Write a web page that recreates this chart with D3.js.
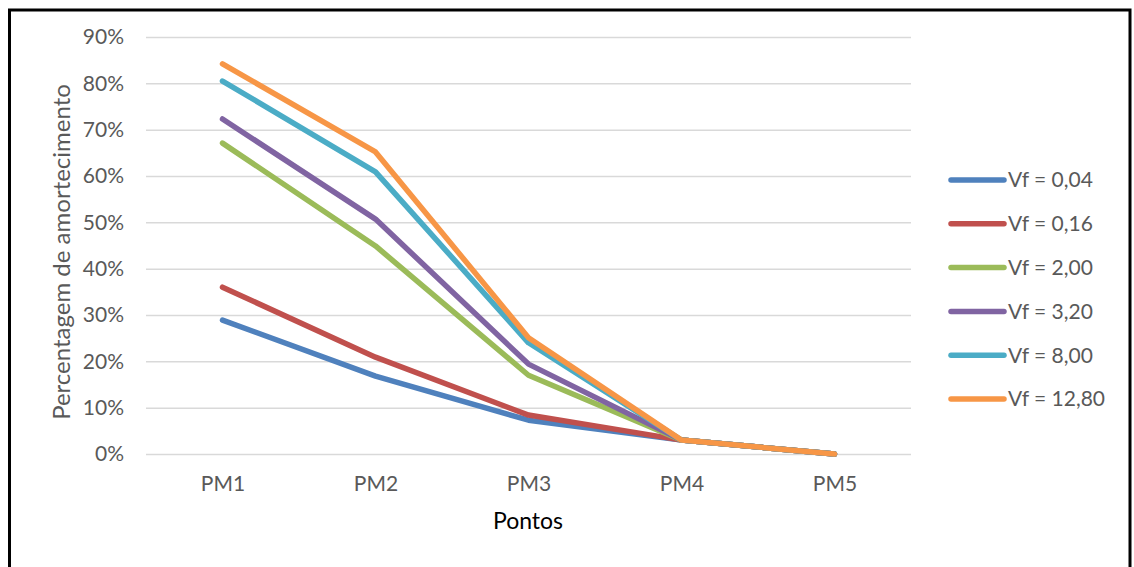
<!DOCTYPE html>
<html>
<head>
<meta charset="utf-8">
<script src="https://cdn.jsdelivr.net/npm/d3@7/dist/d3.min.js"></script>
<style>
  html, body { margin: 0; padding: 0; background: #fff; }
  svg { display: block; }
  text { font-family: Lato, "Noto Sans", sans-serif; }
</style>
</head>
<body>
<svg id="chart" width="1134" height="567"></svg>
<script>
// Damping percentage at each measurement point for each Vf value
const categories = ["PM1", "PM2", "PM3", "PM4", "PM5"];
const seriesNames = ["Vf = 0,04", "Vf = 0,16", "Vf = 2,00", "Vf = 3,20", "Vf = 8,00", "Vf = 12,80"];
const vf004 = [0.289, 0.168, 0.073, 0.030, 0.000];
const vf016 = [0.360, 0.209, 0.084, 0.030, 0.000];
const vf200 = [0.671, 0.449, 0.170, 0.030, 0.000];
const vf320 = [0.723, 0.507, 0.194, 0.030, 0.000];
const vf800 = [0.805, 0.609, 0.240, 0.030, 0.000];
const vf1280 = [0.842, 0.652, 0.251, 0.030, 0.000];
const yTicks = [0, 0.1, 0.2, 0.3, 0.4, 0.5, 0.6, 0.7, 0.8, 0.9];
const colors = ["#4F81BD", "#C0504D", "#9BBB59", "#8064A2", "#4BACC6", "#F79646"];

const series = [vf004, vf016, vf200, vf320, vf800, vf1280].map((values, i) => ({
  name: seriesNames[i], values, color: colors[i]
}));

const svg = d3.select("#chart");

// outer frame
svg.append("rect")
  .attr("x", 9.5).attr("y", 10)
  .attr("width", 1120.5).attr("height", 600)
  .attr("fill", "#fff")
  .attr("stroke", "#000").attr("stroke-width", 3);

const plot = { left: 146, right: 911, top: 37, bottom: 454 };

const x = d3.scalePoint().domain(categories).range([plot.left, plot.right]).padding(0.5);
const y = d3.scaleLinear().domain([0, 0.9]).range([plot.bottom, plot.top]);

// y axis with gridlines
const yAxis = svg.append("g")
  .attr("transform", `translate(${plot.left},0)`)
  .call(d3.axisLeft(y).tickValues(yTicks).tickFormat(d3.format(".0%"))
    .tickSize(-(plot.right - plot.left)).tickPadding(22));
yAxis.select(".domain").remove();
yAxis.selectAll(".tick line").attr("stroke", "#D9D9D9").attr("stroke-width", 1.5);
yAxis.selectAll(".tick text")
  .attr("fill", "#595959").attr("font-size", 21)
  .attr("font-family", "Lato, 'Noto Sans', sans-serif");

// x axis labels
const xAxis = svg.append("g")
  .attr("transform", `translate(0,${plot.bottom})`)
  .call(d3.axisBottom(x).tickSize(0).tickPadding(22));
xAxis.select(".domain").remove();
xAxis.selectAll(".tick text")
  .attr("fill", "#595959").attr("font-size", 21)
  .attr("font-family", "Lato, 'Noto Sans', sans-serif");

// series lines
const line = d3.line()
  .x((d, i) => x(categories[i]))
  .y(d => y(d));

svg.append("g").selectAll("path")
  .data(series)
  .join("path")
  .attr("d", d => line(d.values))
  .attr("fill", "none")
  .attr("stroke", d => d.color)
  .attr("stroke-width", 5.5)
  .attr("stroke-linejoin", "round")
  .attr("stroke-linecap", "round");

// axis titles
svg.append("text")
  .attr("transform", "translate(62,252) rotate(-90)")
  .attr("text-anchor", "middle")
  .attr("dy", "0.35em")
  .attr("fill", "#595959")
  .attr("font-size", 24)
  .text("Percentagem de amortecimento");

svg.append("text")
  .attr("x", 528).attr("y", 529)
  .attr("text-anchor", "middle")
  .attr("fill", "#000")
  .attr("font-size", 23)
  .text("Pontos");

// legend
const legend = svg.append("g");
const legendY = d3.scalePoint().domain(seriesNames).range([180, 399]);
const items = legend.selectAll("g")
  .data(series)
  .join("g")
  .attr("transform", d => `translate(0,${legendY(d.name)})`);
items.append("line")
  .attr("x1", 951).attr("x2", 1004)
  .attr("stroke", d => d.color)
  .attr("stroke-width", 5.5)
  .attr("stroke-linecap", "round");
items.append("text")
  .attr("x", 1008).attr("dy", "0.35em")
  .attr("fill", "#595959")
  .attr("font-size", 21)
  .text(d => d.name);
</script>
</body>
</html>
